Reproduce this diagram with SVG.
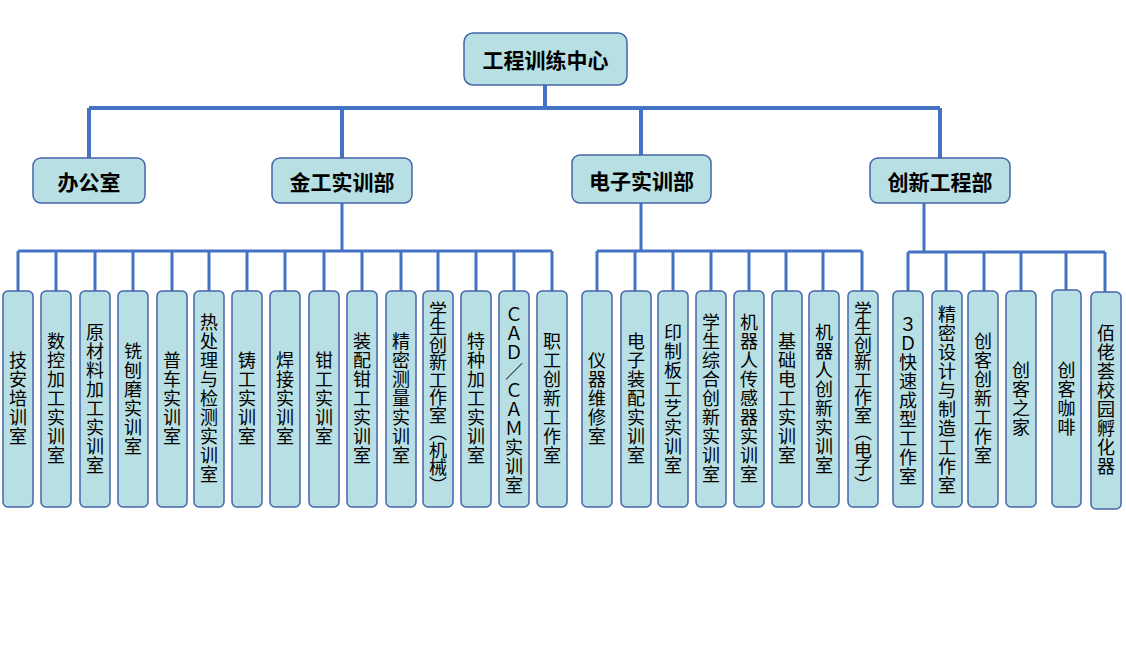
<svg xmlns="http://www.w3.org/2000/svg" width="1126" height="660" viewBox="0 0 1126 660">
<style>
.box{fill:#B8DFE3;stroke:#4466AA;stroke-width:1.5}
.t1{font-family:"Noto Sans CJK SC","Noto Sans CJK JP",sans-serif;font-weight:bold;font-size:21px;fill:#000;text-anchor:middle;dominant-baseline:central}
.lv{font-family:"Noto Sans CJK SC","Noto Sans CJK JP",sans-serif;font-size:18px;fill:#000;text-anchor:middle;writing-mode:vertical-rl;text-orientation:upright;letter-spacing:1px}
.lv2{letter-spacing:-0.5px}
.c1{stroke:#4472C4;stroke-width:4;fill:none}
.c2{stroke:#4472C4;stroke-width:3;fill:none}
</style>
<rect width="1126" height="660" fill="#fff"/>
<g id="connectors">
<path class="c1" d="M545 85V108M89 108H940M89 108V158M342 108V158M641 108V155M940 108V158"/>
<path class="c2" d="M342 203V251M18 251H552M18 251V291M56 251V291M95 251V291M133 251V291M172 251V291M209 251V291M247 251V291M285 251V291M324 251V291M362 251V291M401 251V291M438 251V291M476 251V291M514 251V291M552 251V291"/>
<path class="c2" d="M641 203V251M597 251H862M597 251V291M635 251V291M673 251V291M711 251V291M749 251V291M786 251V291M823 251V291M862 251V291"/>
<path class="c2" d="M924 203V252M908 252H1105M908 252V291M946 252V291M984 252V291M1021 252V291M1066 252V291M1105 252V292"/>
</g>
<g id="n-root"><rect class="box" x="464" y="33" width="163" height="52" rx="9"/><text class="t1" x="545.5" y="59">工程训练中心</text></g>
<g id="n-office"><rect class="box" x="33" y="158" width="112" height="45" rx="8"/><text class="t1" x="89" y="181">办公室</text></g>
<g id="n-jingong"><rect class="box" x="272" y="158" width="140" height="45" rx="8"/><text class="t1" x="342" y="181">金工实训部</text></g>
<g id="n-dianzi"><rect class="box" x="572" y="155" width="139" height="48" rx="8"/><text class="t1" x="641.5" y="180">电子实训部</text></g>
<g id="n-chuangxin"><rect class="box" x="870" y="158" width="140" height="45" rx="8"/><text class="t1" x="940" y="181">创新工程部</text></g>

<g id="l1"><rect class="box" x="3" y="291" width="30" height="216" rx="5"/><text class="lv" x="18" y="399">技安培训室</text></g>
<g id="l2"><rect class="box" x="41" y="291" width="30" height="216" rx="5"/><text class="lv" x="56" y="399">数控加工实训室</text></g>
<g id="l3"><rect class="box" x="80" y="291" width="30" height="216" rx="5"/><text class="lv" x="95" y="399">原材料加工实训室</text></g>
<g id="l4"><rect class="box" x="118" y="291" width="30" height="216" rx="5"/><text class="lv" x="133" y="399">铣刨磨实训室</text></g>
<g id="l5"><rect class="box" x="157" y="291" width="30" height="216" rx="5"/><text class="lv" x="172" y="399">普车实训室</text></g>
<g id="l6"><rect class="box" x="194" y="291" width="30" height="216" rx="5"/><text class="lv" x="209" y="399">热处理与检测实训室</text></g>
<g id="l7"><rect class="box" x="232" y="291" width="30" height="216" rx="5"/><text class="lv" x="247" y="399">铸工实训室</text></g>
<g id="l8"><rect class="box" x="270" y="291" width="30" height="216" rx="5"/><text class="lv" x="285" y="399">焊接实训室</text></g>
<g id="l9"><rect class="box" x="309" y="291" width="30" height="216" rx="5"/><text class="lv" x="324" y="399">钳工实训室</text></g>
<g id="l10"><rect class="box" x="347" y="291" width="30" height="216" rx="5"/><text class="lv" x="362" y="399">装配钳工实训室</text></g>
<g id="l11"><rect class="box" x="386" y="291" width="30" height="216" rx="5"/><text class="lv" x="401" y="399">精密测量实训室</text></g>
<g id="l12"><rect class="box" x="423" y="291" width="30" height="216" rx="5"/><text class="lv lv2" x="438" y="397">学生创新工作室（机械）</text></g>
<g id="l13"><rect class="box" x="461" y="291" width="30" height="216" rx="5"/><text class="lv" x="476" y="399">特种加工实训室</text></g>
<g id="l14"><rect class="box" x="499" y="291" width="30" height="216" rx="5"/><text class="lv" x="514" y="400">ＣＡＤ／ＣＡＭ实训室</text></g>
<g id="l15"><rect class="box" x="537" y="291" width="30" height="216" rx="5"/><text class="lv" x="552" y="399">职工创新工作室</text></g>

<g id="e1"><rect class="box" x="582" y="291" width="30" height="216" rx="5"/><text class="lv" x="597" y="399">仪器维修室</text></g>
<g id="e2"><rect class="box" x="621" y="291" width="30" height="216" rx="5"/><text class="lv" x="636" y="399">电子装配实训室</text></g>
<g id="e3"><rect class="box" x="658" y="291" width="30" height="216" rx="5"/><text class="lv" x="673" y="399">印制板工艺实训室</text></g>
<g id="e4"><rect class="box" x="696" y="291" width="30" height="216" rx="5"/><text class="lv" x="711" y="399">学生综合创新实训室</text></g>
<g id="e5"><rect class="box" x="734" y="291" width="30" height="216" rx="5"/><text class="lv" x="749" y="399">机器人传感器实训室</text></g>
<g id="e6"><rect class="box" x="772" y="291" width="30" height="216" rx="5"/><text class="lv" x="787" y="399">基础电工实训室</text></g>
<g id="e7"><rect class="box" x="809" y="291" width="30" height="216" rx="5"/><text class="lv" x="824" y="399">机器人创新实训室</text></g>
<g id="e8"><rect class="box" x="848" y="291" width="30" height="216" rx="5"/><text class="lv lv2" x="863" y="397">学生创新工作室（电子）</text></g>

<g id="i1"><rect class="box" x="893" y="291" width="30" height="216" rx="5"/><text class="lv" x="908" y="401">３Ｄ快速成型工作室</text></g>
<g id="i2"><rect class="box" x="932" y="291" width="30" height="216" rx="5"/><text class="lv" x="947" y="400">精密设计与制造工作室</text></g>
<g id="i3"><rect class="box" x="968" y="291" width="30" height="216" rx="5"/><text class="lv" x="983" y="399">创客创新工作室</text></g>
<g id="i4"><rect class="box" x="1006" y="291" width="30" height="216" rx="5"/><text class="lv" x="1021" y="399">创客之家</text></g>
<g id="i5"><rect class="box" x="1052" y="290" width="29" height="217" rx="5"/><text class="lv" x="1066.5" y="399">创客咖啡</text></g>
<g id="i6"><rect class="box" x="1091" y="292" width="30" height="217" rx="5"/><text class="lv" x="1106" y="400">佰佬荟校园孵化器</text></g>
</svg>
